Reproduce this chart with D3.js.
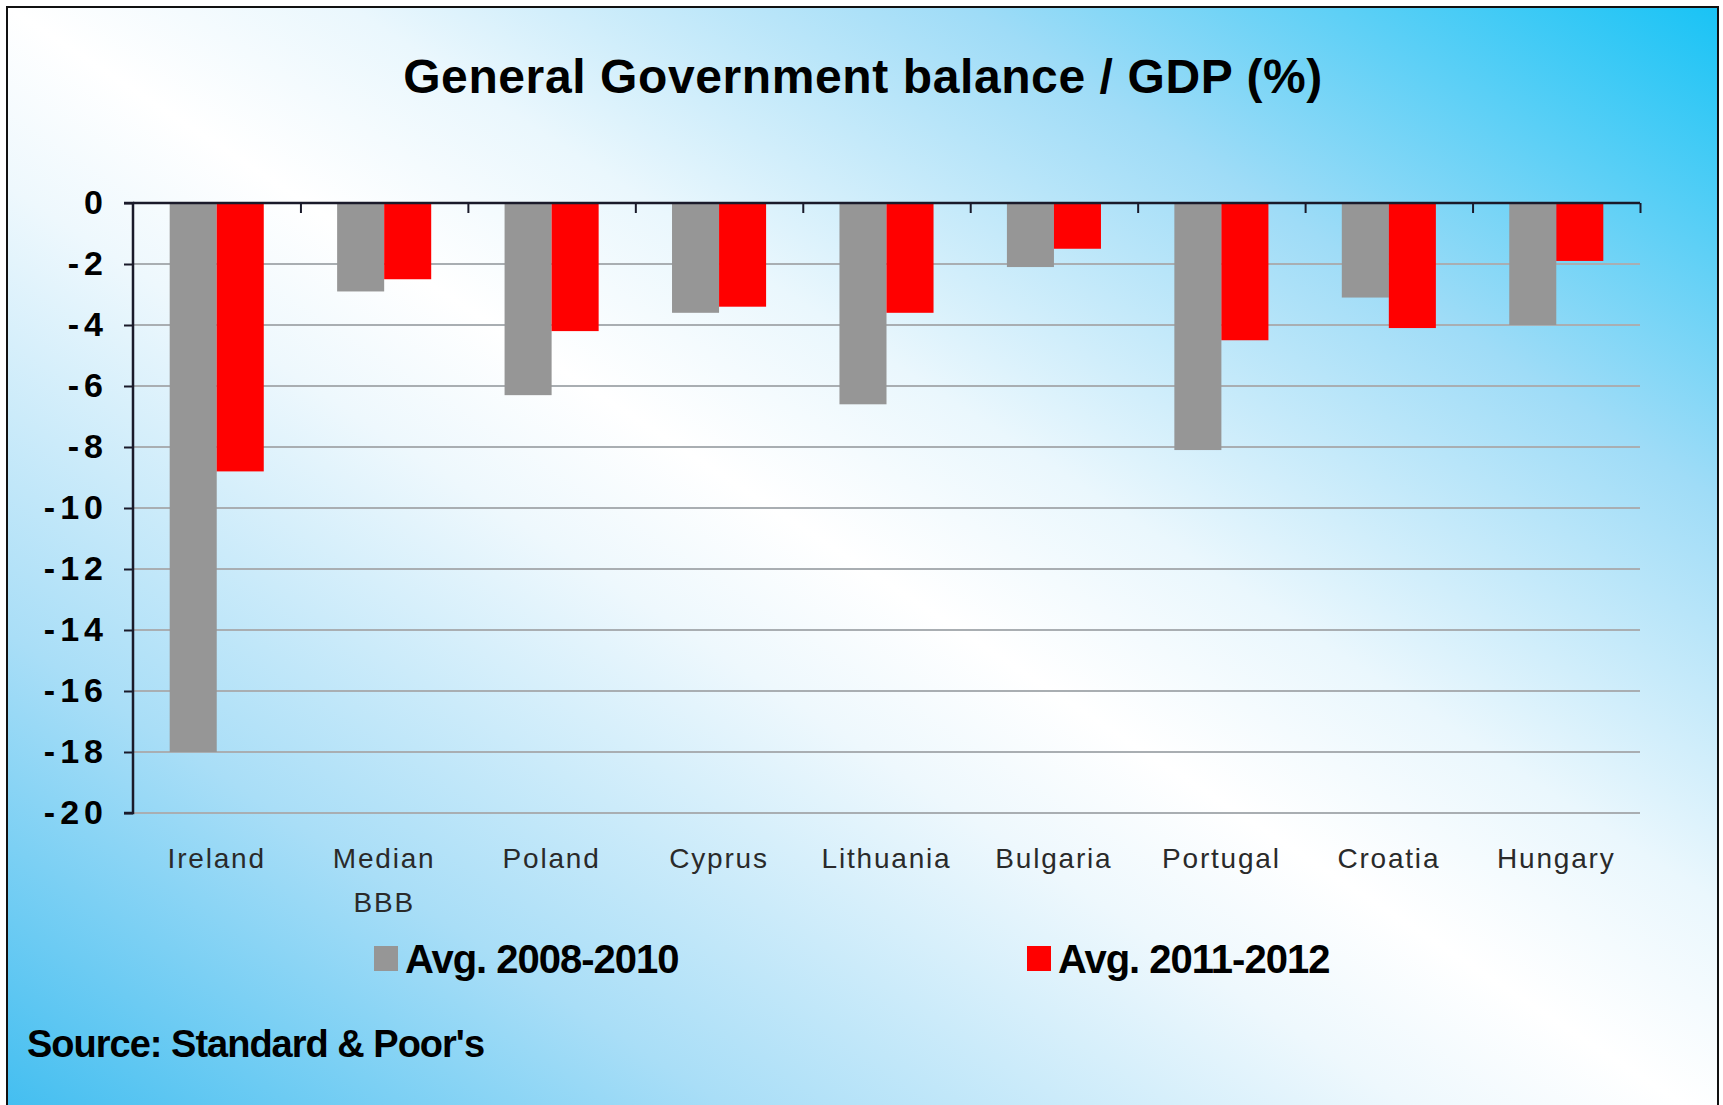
<!DOCTYPE html>
<html>
<head>
<meta charset="utf-8">
<script src="https://cdn.jsdelivr.net/npm/d3@7"></script>
<style>
  html, body { margin: 0; padding: 0; background: #fff; }
  svg { display: block; }
</style>
</head>
<body>
<script>
// General government balance as % of GDP, two averaging periods
const categories = ["Ireland", "Median\nBBB", "Poland", "Cyprus", "Lithuania", "Bulgaria", "Portugal", "Croatia", "Hungary"];
const seriesNames = ["Avg. 2008-2010", "Avg. 2011-2012"];
const avg2008_2010 = [-18.0, -2.9, -6.3, -3.6, -6.6, -2.1, -8.1, -3.1, -4.0];
const avg2011_2012 = [-8.8, -2.5, -4.2, -3.4, -3.6, -1.5, -4.5, -4.1, -1.9];
const yTicks = [0, -2, -4, -6, -8, -10, -12, -14, -16, -18, -20];
const seriesColors = ["#969696", "#ff0000"];

const W = 1723, H = 1105;
const svg = d3.select("body").append("svg").attr("width", W).attr("height", H);

// Diagonal background wash: blue at lower-left, white centre, cyan at upper-right
const defs = svg.append("defs");
const bg = defs.append("linearGradient").attr("id", "bg")
  .attr("x1", 0).attr("y1", 1).attr("x2", 1).attr("y2", 0);
[[0, "#3fbdf0"], [0.22, "#a9def7"], [0.42, "#eef8fd"], [0.5, "#ffffff"],
 [0.6, "#eaf7fd"], [0.78, "#9fdcf7"], [1, "#19c3f5"]].forEach(([o, c]) =>
  bg.append("stop").attr("offset", o).attr("stop-color", c));

svg.append("rect").attr("x", 0).attr("y", 0).attr("width", W).attr("height", H).attr("fill", "#fff");
svg.append("rect").attr("x", 7).attr("y", 7).attr("width", 1711).attr("height", 1120)
  .attr("fill", "url(#bg)").attr("stroke", "#111").attr("stroke-width", 2);

// Title
svg.append("text").attr("x", 863).attr("y", 93).attr("text-anchor", "middle")
  .attr("font-family", "Liberation Sans, Arial, sans-serif").attr("font-weight", "bold")
  .attr("font-size", 48).attr("letter-spacing", 0.6).attr("fill", "#000")
  .text("General Government balance / GDP (%)");

// Scales
const plotLeft = 133, plotRight = 1640, plotTop = 203, plotBottom = 813;
const x0 = d3.scaleBand().domain(d3.range(categories.length)).range([plotLeft, plotRight]).padding(0);
const x1 = d3.scaleBand().domain(d3.range(seriesNames.length)).range([0, x0.bandwidth()])
  .paddingInner(0).paddingOuter(0.78);
const y = d3.scaleLinear().domain([0, -20]).range([plotTop, plotBottom]);

// Horizontal gridlines
svg.append("g").selectAll("line").data(yTicks.filter(d => d !== 0)).join("line")
  .attr("x1", plotLeft).attr("x2", plotRight)
  .attr("y1", d => y(d)).attr("y2", d => y(d))
  .attr("stroke", "#a9aeb2").attr("stroke-width", 2);

// Bars
const series = [avg2008_2010, avg2011_2012];
series.forEach((vals, s) => {
  svg.append("g").selectAll("rect").data(vals).join("rect")
    .attr("x", (d, i) => x0(i) + x1(s))
    .attr("width", x1.bandwidth())
    .attr("y", y(0))
    .attr("height", d => y(d) - y(0))
    .attr("fill", seriesColors[s]);
});

// Y axis
const yAxis = d3.axisLeft(y).tickValues(yTicks).tickSize(9).tickPadding(16).tickFormat(d3.format("d"));
const yg = svg.append("g").attr("transform", `translate(${plotLeft},0)`).call(yAxis);
yg.select(".domain").attr("stroke", "#1a1a2a").attr("stroke-width", 2.5)
  .attr("d", `M-9,${plotTop}H0V${plotBottom}H-9`);
yg.selectAll(".tick line").attr("stroke", "#1a1a2a").attr("stroke-width", 2);
yg.selectAll(".tick text")
  .attr("font-family", "Liberation Sans, Arial, sans-serif").attr("font-weight", "bold")
  .attr("font-size", 34).attr("letter-spacing", 5).attr("fill", "#000")
  .text(d => d === 0 ? "0" : "-" + Math.abs(d));

// Zero line with category-boundary ticks pointing down
const xAxis = d3.axisBottom(d3.scaleLinear().domain([0, categories.length]).range([plotLeft, plotRight]))
  .ticks(categories.length).tickSize(10).tickFormat("");
const xg = svg.append("g").attr("transform", `translate(0,${plotTop})`).call(xAxis);
xg.select(".domain").attr("stroke", "#1a1a2a").attr("stroke-width", 2.5).attr("d", `M${plotLeft},0H${plotRight}`);
xg.selectAll(".tick line").attr("stroke", "#1a1a2a").attr("stroke-width", 2);
xg.selectAll(".tick").filter(d => d === 0).remove();

// Category labels
const labels = svg.append("g").selectAll("text").data(categories).join("text")
  .attr("x", (d, i) => x0(i) + x0.bandwidth() / 2)
  .attr("y", 868)
  .attr("text-anchor", "middle")
  .attr("font-family", "Liberation Sans, Arial, sans-serif")
  .attr("font-size", 28).attr("letter-spacing", 1.8).attr("fill", "#2a2a2a");
labels.each(function(d) {
  const lines = d.split("\n");
  const t = d3.select(this);
  lines.forEach((ln, k) => t.append("tspan")
    .attr("x", t.attr("x")).attr("dy", k === 0 ? 0 : 44).text(ln));
});

// Legend
const legendX = [374, 1027];
seriesNames.forEach((name, s) => {
  svg.append("rect").attr("x", legendX[s]).attr("y", 946).attr("width", 24).attr("height", 25)
    .attr("fill", seriesColors[s]);
  svg.append("text").attr("x", legendX[s] + 31).attr("y", 973)
    .attr("font-family", "Liberation Sans, Arial, sans-serif").attr("font-weight", "bold")
    .attr("font-size", 40).attr("letter-spacing", -1).attr("fill", "#000")
    .text(name);
});

// Source note
svg.append("text").attr("x", 27).attr("y", 1057)
  .attr("font-family", "Liberation Sans, Arial, sans-serif").attr("font-weight", "bold")
  .attr("font-size", 38).attr("letter-spacing", -1).attr("fill", "#000")
  .text("Source: Standard & Poor's");
</script>
</body>
</html>
